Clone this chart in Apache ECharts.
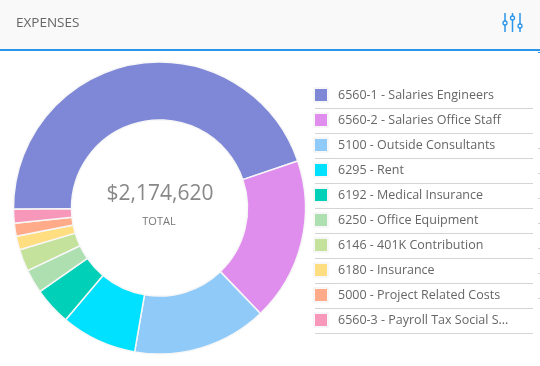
<!DOCTYPE html>
<html><head><meta charset="utf-8">
<style>html,body{margin:0;padding:0;background:#fff}#c{width:540px;height:366px}</style>
<script src="https://cdn.jsdelivr.net/npm/echarts@6/dist/echarts.min.js"></script>
</head><body><div id="c"></div>
<script>
var categories = ["6560-1 - Salaries Engineers","6560-2 - Salaries Office Staff","5100 - Outside Consultants","6295 - Rent","6192 - Medical Insurance","6250 - Office Equipment","6146 - 401K Contribution","6180 - Insurance","5000 - Project Related Costs","6560-3 - Payroll Tax Social Security"];
var values = [976820,393200,323200,182400,91200,57400,53200,32600,31400,33200];
var colors = ["#7e88d6","#e08eee","#90caf9","#00e0ff","#00d0b8","#aedfb0","#c5e29c","#ffde82","#ffab8a","#f797b9"];
var totalLabel = "$2,174,620";
var F = '"Open Sans",sans-serif';
var g = [
 {type:'rect',z:0,shape:{x:0,y:0,width:540,height:49},style:{fill:'#f9f9f9'}},
 {type:'rect',z:0,shape:{x:0,y:49,width:540,height:2},style:{fill:'#2b95e9'}},
 {type:'rect',z:0,shape:{x:538,y:52,width:2,height:1},style:{fill:'#2b95e9'}},
 {type:'text',z:5,x:16,y:23,style:{text:'EXPENSES',font:'13.5px '+F,fill:'#666',textVerticalAlign:'middle'}},
 {type:'text',z:5,x:160,y:194,style:{text:totalLabel,font:'21px '+F,fill:'#888',textAlign:'center',textVerticalAlign:'middle'}},
 {type:'text',z:5,x:159,y:222,style:{text:'TOTAL',font:'11px '+F,fill:'#777',textAlign:'center',textVerticalAlign:'middle'}}
];
[[505,13,32,23],[512.5,13,32,18],[520,13,32,26]].forEach(function(s){
 g.push({type:'line',z:5,shape:{x1:s[0],y1:s[1],x2:s[0],y2:s[2]},style:{stroke:'#2b95e9',lineWidth:1.5}});
 g.push({type:'circle',z:6,shape:{cx:s[0],cy:s[3],r:2},style:{fill:'#f9f9f9',stroke:'#2b95e9',lineWidth:1.3}});
});
categories.forEach(function(c,i){
 g.push({type:'rect',z:1,shape:{x:315,y:108+25*i,width:218,height:1},style:{fill:'#d4d4d4'}});
});
[148,173,198,223,248,273,298].forEach(function(y){
 g.push({type:'rect',z:1,shape:{x:538,y:y,width:2,height:1},style:{fill:'#d4d4d4'}});
});
echarts.init(document.getElementById('c'),null,{renderer:'canvas'}).setOption({
 animation:false,
 color:colors,
 graphic:g,
 legend:{orient:'vertical',left:308,top:82,itemWidth:14,itemHeight:14,itemGap:9,icon:'rect',selectedMode:false,
  data:categories,
  textStyle:{fontFamily:F,fontSize:12.5,color:'#666',width:178,overflow:'truncate',ellipsis:'...',padding:[0,0,0,5]}},
 series:[{type:'pie',center:[159.5,208],radius:[88,146],startAngle:180.5,clockwise:true,silent:true,
  label:{show:false},labelLine:{show:false},
  itemStyle:{borderColor:'#f7f7f7',borderWidth:1.5},
  data:categories.map(function(n,i){return {name:n,value:values[i]};})}]
});
</script></body></html>
